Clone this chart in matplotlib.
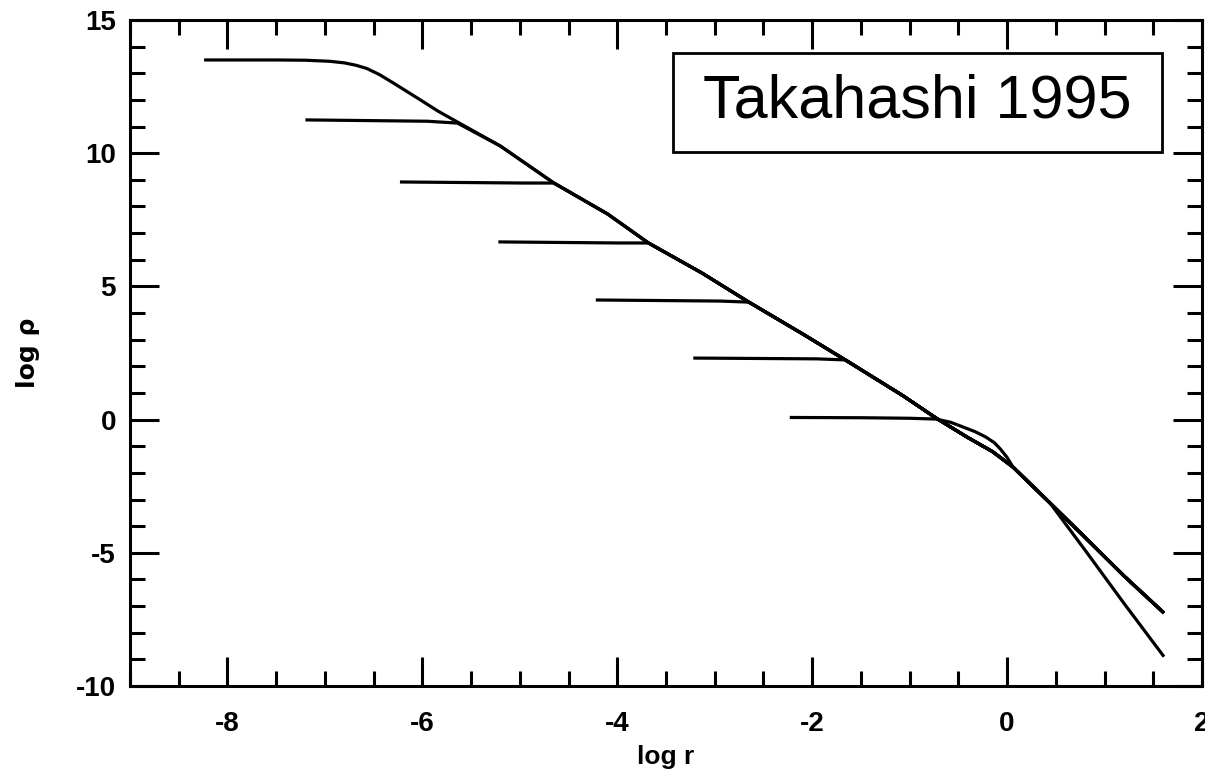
import matplotlib
matplotlib.use("Agg")
import matplotlib.pyplot as plt
from matplotlib.patches import Rectangle
from matplotlib.ticker import MultipleLocator

# ---- data ----
# shared power-law envelope (log r, log rho)
env_x = [-5.64, -5.20, -4.65, -4.10, -3.68, -3.13, -2.65, -2.10, -1.66, -1.07, -0.73, -0.40, -0.15, 0.06, 0.44]
env_y = [11.13, 10.27, 8.88, 7.72, 6.63, 5.50, 4.41, 3.22, 2.24, 0.90, 0.06, -0.68, -1.20, -1.78, -3.13]

# outer tail (upper branch) and steeper tail (lower branch)
tail_up_x = [0.44, 0.80, 1.20, 1.61]
tail_up_y = [-3.13, -4.42, -5.87, -7.26]
tail_lo_x = [0.44, 0.80, 1.20, 1.61]
tail_lo_y = [-3.13, -4.90, -6.90, -8.90]

# first (earliest) profile: plateau and its rounded knee
top_x = [-8.24, -7.50, -7.20, -6.95, -6.80, -6.68, -6.57, -6.44, -6.30, -6.16, -6.02, -5.84]
top_y = [13.50, 13.50, 13.49, 13.45, 13.39, 13.30, 13.18, 12.95, 12.64, 12.32, 12.00, 11.58]

# later profiles: plateau start, plateau value, plateau end (just before joining)
core_start = [-7.20, -6.23, -5.22, -4.22, -3.22]
core_value = [11.25, 8.92, 6.67, 4.49, 2.31]
core_end = [-5.95, -4.95, -3.98, -2.95, -1.95]
core_end_value = [11.20, 8.88, 6.63, 4.45, 2.28]
join_index = [0, 2, 4, 6, 8]

# last profile: plateau, bump above envelope, steeper tail
last_x = [-2.23, -1.50, -1.00, -0.73, -0.58, -0.45, -0.33, -0.22, -0.13, -0.07, 0.00, 0.06]
last_y = [0.08, 0.07, 0.05, 0.02, -0.10, -0.28, -0.45, -0.65, -0.87, -1.10, -1.42, -1.78]

xticks = [-8, -6, -4, -2, 0, 2]
yticks = [-10, -5, 0, 5, 10, 15]

# ---- figure ----
fig = plt.figure(figsize=(12.05, 7.73), dpi=100)
ax = fig.add_axes([130 / 1205, (773 - 686) / 773, 1072 / 1205, 666 / 773])

lw = 2.3
kw = dict(color="black", lw=lw, solid_capstyle="butt", solid_joinstyle="round")

# earliest profile
ax.plot(top_x + env_x[1:] + tail_up_x[1:], top_y + env_y[1:] + tail_up_y[1:], **kw)

# intermediate profiles
for s, v, e, ev, j in zip(core_start, core_value, core_end, core_end_value, join_index):
    xs = [s, e] + env_x[j:] + tail_up_x[1:]
    ys = [v, ev] + env_y[j:] + tail_up_y[1:]
    ax.plot(xs, ys, **kw)

# last profile
ax.plot(last_x + tail_lo_x, last_y + tail_lo_y, **kw)

ax.set_xlim(-9, 2)
ax.set_ylim(-10, 15)
ax.set_xticks(xticks)
ax.set_yticks(yticks)
ax.xaxis.set_minor_locator(MultipleLocator(0.5))
ax.yaxis.set_minor_locator(MultipleLocator(1))

for sp in ax.spines.values():
    sp.set_linewidth(2.2)

ax.tick_params(which="both", direction="in", top=True, right=True, width=2.2)
ax.tick_params(which="major", length=21)
ax.tick_params(which="minor", length=10.5)
ax.tick_params(axis="x", which="major", pad=18)
ax.tick_params(axis="y", which="major", pad=10)

tick_font = dict(family="Liberation Sans", weight="bold", size=20)
ax.set_xticklabels([str(t) for t in xticks], **tick_font)
ax.set_yticklabels([str(t) for t in yticks], **tick_font)

ax.set_xlabel("log r", family="Liberation Sans", weight="bold", size=19, labelpad=6)
ax.set_ylabel("log ρ", family="DejaVu Sans", weight="bold", size=18, labelpad=26)

# annotation box
ax.add_patch(Rectangle((0.5065, 0.8018), 0.9627 - 0.5065, 0.9505 - 0.8018,
                       transform=ax.transAxes, fill=True, facecolor="white",
                       edgecolor="black", lw=2.0, zorder=5))
ax.text((0.5065 + 0.9627) / 2, (0.8018 + 0.9505) / 2, "Takahashi 1995",
        transform=ax.transAxes, ha="center", va="center",
        family="Liberation Sans", size=44, zorder=6)

fig.savefig("out.png", dpi=100)
